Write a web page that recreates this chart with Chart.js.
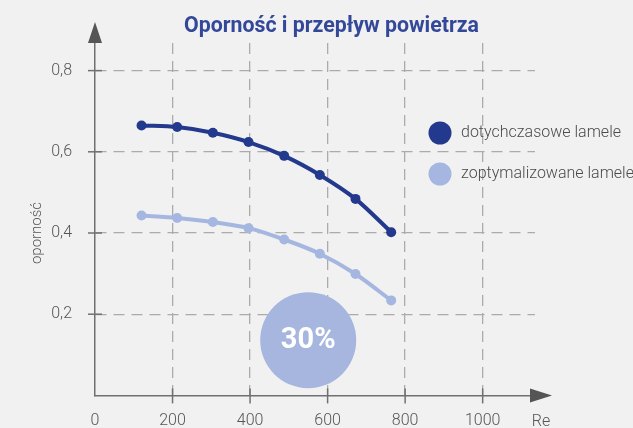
<!DOCTYPE html>
<html>
<head>
<meta charset="utf-8">
<script src="https://cdn.jsdelivr.net/npm/chart.js@4.4.0/dist/chart.umd.min.js"></script>
<style>
  html, body { margin: 0; padding: 0; background: #f1f1f1; }
  canvas { display: block; }
</style>
</head>
<body>
<canvas id="chart" width="633" height="428"></canvas>
<script>
const chartTitle = 'Oporność i przepływ powietrza';
const yTitle = 'oporność';
const xTitle = 'Re';
const seriesNames = ['dotychczasowe lamele', 'zoptymalizowane lamele'];
const reValues = [120, 212, 304, 396, 488, 580, 672, 764];
const oldValues = [0.665, 0.661, 0.647, 0.624, 0.590, 0.543, 0.484, 0.402];
const newValues = [0.443, 0.437, 0.427, 0.412, 0.384, 0.349, 0.299, 0.234];
const xTicks = [0, 200, 400, 600, 800, 1000];
const yTicks = [0.2, 0.4, 0.6, 0.8];
const badgeText = '30%';
const badgeAt = [550, 0.136];

const dark = '#22398d';
const light = '#a5b7e0';
const axisColor = '#707070';
const gridColor = '#ababab';
const textColor = '#555555';

const toPoints = vals => vals.map((v, i) => ({ x: reValues[i], y: v }));

const decor = {
  id: 'decor',
  beforeDatasetsDraw(chart) {
    const { ctx, scales: { x, y } } = chart;
    const cx = x.getPixelForValue(badgeAt[0]);
    const cy = y.getPixelForValue(badgeAt[1]);
    ctx.save();
    ctx.fillStyle = '#a6b6df';
    ctx.beginPath();
    ctx.arc(cx, cy, 48, 0, Math.PI * 2);
    ctx.fill();
    ctx.fillStyle = '#ffffff';
    ctx.font = 'bold 29px Roboto';
    ctx.textAlign = 'center';
    ctx.textBaseline = 'middle';
    ctx.fillText(badgeText, cx, cy + 1);
    ctx.restore();
  },
  afterDraw(chart) {
    const { ctx, chartArea: a, scales: { x, y } } = chart;
    ctx.save();
    // tick marks crossing the axes
    ctx.strokeStyle = axisColor;
    ctx.lineWidth = 1.5;
    yTicks.forEach(v => {
      const py = y.getPixelForValue(v);
      ctx.beginPath();
      ctx.moveTo(a.left - 7, py);
      ctx.lineTo(a.left + 7, py);
      ctx.stroke();
    });
    xTicks.slice(1).forEach(v => {
      const px = x.getPixelForValue(v);
      ctx.beginPath();
      ctx.moveTo(px, a.bottom - 7);
      ctx.lineTo(px, a.bottom + 8);
      ctx.stroke();
    });
    // arrows
    ctx.fillStyle = '#555555';
    ctx.beginPath();
    ctx.moveTo(a.left, a.top - 21);
    ctx.lineTo(a.left - 7, a.top);
    ctx.lineTo(a.left + 7, a.top);
    ctx.closePath();
    ctx.fill();
    ctx.beginPath();
    ctx.moveTo(a.right + 17, a.bottom);
    ctx.lineTo(a.right - 5, a.bottom - 7);
    ctx.lineTo(a.right - 5, a.bottom + 7);
    ctx.closePath();
    ctx.fill();

    // title, squeezed to a condensed width
    ctx.font = 'bold 22px Roboto';
    ctx.fillStyle = '#34489a';
    ctx.textAlign = 'left';
    ctx.textBaseline = 'alphabetic';
    const w = ctx.measureText(chartTitle).width;
    ctx.save();
    ctx.translate(184, 32);
    ctx.scale(295 / w, 1);
    ctx.fillText(chartTitle, 0, 0);
    ctx.restore();

    // axis titles
    ctx.fillStyle = textColor;
    ctx.font = '300 15px Roboto';
    ctx.save();
    ctx.translate(37, 233);
    ctx.rotate(-Math.PI / 2);
    ctx.textAlign = 'center';
    ctx.textBaseline = 'middle';
    ctx.fillText(yTitle, 0, 0);
    ctx.restore();
    ctx.font = '300 16px Roboto';
    ctx.textAlign = 'center';
    ctx.textBaseline = 'middle';
    ctx.fillText(xTitle, a.right + 6, a.bottom + 27);

    // legend
    chart.data.datasets.forEach((ds, i) => {
      const ly = 133 + i * 41;
      ctx.fillStyle = ds.borderColor;
      ctx.beginPath();
      ctx.arc(440, ly, 11.5, 0, Math.PI * 2);
      ctx.fill();
      ctx.fillStyle = '#4a4a4a';
      ctx.font = '300 16px Roboto';
      ctx.textAlign = 'left';
      ctx.textBaseline = 'middle';
      ctx.fillText(ds.label, 461, ly);
    });
    ctx.restore();
  }
};

new Chart(document.getElementById('chart').getContext('2d'), {
  type: 'line',
  data: {
    datasets: [{
      label: seriesNames[0],
      data: toPoints(oldValues),
      borderColor: dark,
      backgroundColor: dark,
      borderWidth: 4,
      pointRadius: 5,
      pointBorderWidth: 0,
      tension: 0.3
    }, {
      label: seriesNames[1],
      data: toPoints(newValues),
      borderColor: light,
      backgroundColor: light,
      borderWidth: 4,
      pointRadius: 5,
      pointBorderWidth: 0,
      tension: 0.3
    }]
  },
  options: {
    responsive: false,
    animation: false,
    layout: { padding: { top: 43, right: 98, left: 0, bottom: 0 } },
    plugins: { legend: { display: false }, title: { display: false }, tooltip: { enabled: false } },
    scales: {
      x: {
        type: 'linear',
        min: 0,
        max: 1135,
        afterBuildTicks: s => { s.ticks = xTicks.map(v => ({ value: v })); },
        afterFit: s => { s.height = 30; },
        border: { display: true, color: axisColor, width: 1.5, dash: [11, 7] },
        grid: {
          color: c => (c.tick && c.tick.value === 0) ? 'rgba(0,0,0,0)' : gridColor,
          lineWidth: 1.3,
          drawTicks: false
        },
        ticks: {
          color: textColor,
          font: { family: 'Roboto', size: 16, weight: '300' },
          padding: 16,
          maxRotation: 0,
          autoSkip: false,
          callback: v => String(v)
        }
      },
      y: {
        min: 0,
        max: 0.868,
        afterBuildTicks: s => { s.ticks = yTicks.map(v => ({ value: v })); },
        afterFit: s => { s.width = 95; },
        border: { display: true, color: axisColor, width: 1.5, dash: [11, 7] },
        grid: { color: gridColor, lineWidth: 1.3, drawTicks: false },
        ticks: {
          color: textColor,
          font: { family: 'Roboto', size: 16, weight: '300' },
          padding: 23,
          callback: v => v.toFixed(1).replace('.', ',')
        }
      }
    }
  },
  plugins: [decor]
});
</script>
</body>
</html>
